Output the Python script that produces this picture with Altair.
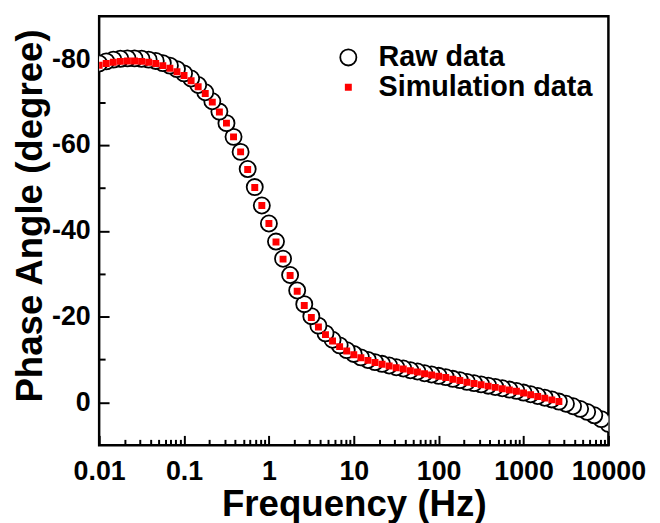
import altair as alt
import pandas as pd

# ---------------- data ----------------
freq = [
    0.01, 0.01212, 0.01468, 0.01778, 0.02154, 0.0261, 0.03162, 0.03831, 0.04642, 0.05623, 0.06813, 0.08254,
    0.1, 0.1212, 0.1468, 0.1778, 0.2154, 0.261, 0.3162, 0.3831, 0.4642, 0.5623, 0.6813, 0.8254,
    1, 1.212, 1.468, 1.778, 2.154, 2.61, 3.162, 3.831, 4.642, 5.623, 6.813, 8.254,
    10, 12.12, 14.68, 17.78, 21.54, 26.1, 31.62, 38.31, 46.42, 56.23, 68.13, 82.54,
    100, 121.2, 146.8, 177.8, 215.4, 261, 316.2, 383.1, 464.2, 562.3, 681.3, 825.4,
    1000, 1212, 1468, 1778, 2154, 2610, 3162, 3831, 4642, 5623, 6813, 8254,
    10000,
]

raw_phase = [
    -79.0, -79.5, -79.9, -80.1, -80.2, -80.2, -80.1, -79.9, -79.6, -79.1, -78.5, -77.7,
    -76.7, -75.5, -74.0, -72.3, -70.2, -67.8, -65.1, -61.9, -58.4, -54.4, -50.2, -45.9,
    -41.7, -37.5, -33.5, -29.7, -26.1, -22.9, -20.1, -17.9, -16.1, -14.6, -13.3, -12.2,
    -11.3, -10.5, -9.9, -9.4, -9.0, -8.6, -8.2, -7.9, -7.5, -7.2, -6.8, -6.5,
    -6.2, -5.9, -5.5, -5.2, -4.8, -4.5, -4.2, -3.9, -3.6, -3.3, -3.0, -2.7,
    -2.3, -1.9, -1.5, -1.1, -0.7, -0.2, 0.3, 0.9, 1.5, 2.2, 3.0, 3.9,
    5.0,
]

sim_phase = [
    -78.6, -79.0, -79.3, -79.5, -79.6, -79.6, -79.5, -79.3, -79.0, -78.5, -77.9, -77.1,
    -76.2, -75.0, -73.6, -72.0, -70.0, -67.7, -65.1, -61.9, -58.4, -54.3, -50.1, -45.9,
    -41.7, -37.4, -33.4, -29.6, -25.9, -22.6, -19.8, -17.6, -15.8, -14.3, -13.0, -12.0,
    -11.1, -10.4, -9.8, -9.3, -8.9, -8.5, -8.1, -7.8, -7.4, -7.1, -6.7, -6.4,
    -6.1, -5.8, -5.4, -5.1, -4.7, -4.4, -4.1, -3.8, -3.5, -3.2, -2.9, -2.6,
    -2.2, -1.8, -1.4, -1.0, -0.6, -0.2,
]

series_names = ["Raw data", "Simulation data"]

x_major = [0.01, 0.1, 1, 10, 100, 1000, 10000]
x_minor = [
    0.02, 0.03, 0.04, 0.05, 0.06, 0.07, 0.08, 0.09,
    0.2, 0.3, 0.4, 0.5, 0.6, 0.7, 0.8, 0.9,
    2, 3, 4, 5, 6, 7, 8, 9,
    20, 30, 40, 50, 60, 70, 80, 90,
    200, 300, 400, 500, 600, 700, 800, 900,
    2000, 3000, 4000, 5000, 6000, 7000, 8000, 9000,
]
y_major = [-80, -60, -40, -20, 0]
y_minor = [-70, -50, -30, -10]

# ---------------- table (high -> low frequency, as measured) ----------------
rows = []
for f, v in reversed(list(zip(freq, raw_phase))):
    rows.append({"freq": f, "phase": v, "series": series_names[0]})
for f, v in reversed(list(zip(freq, sim_phase))):
    rows.append({"freq": f, "phase": v, "series": series_names[1]})
df = pd.DataFrame(rows)

PLOT_W = 514
PLOT_H = 433
FONT = "Liberation Sans"

xscale = alt.Scale(type="log", domain=[0.01, 10000], nice=False)
yscale = alt.Scale(domain=[-90, 10], reverse=True, nice=False, zero=False)

legend = alt.Legend(
    title=None, orient="none", legendX=237, legendY=27, padding=0,
    labelFont=FONT, labelFontSize=29, labelFontWeight="bold", labelColor="black",
    labelOffset=16, rowPadding=-3, symbolStrokeWidth=1.8, labelBaseline="middle",
    labelLimit=400,
)

main = alt.Chart(df).mark_point(clip=True, opacity=1, strokeWidth=1.8).encode(
    x=alt.X("freq:Q", scale=xscale, axis=alt.Axis(
        orient="bottom", values=x_major, labelExpr="datum.value + ''",
        ticks=False, domain=False, grid=False, labelPadding=13,
        labelFont=FONT, labelFontSize=27, labelFontWeight="bold", labelColor="black",
        labelFlush=False, labelOverlap=False, labelBound=False,
        title="Frequency (Hz)", titleFont=FONT, titleFontSize=37, titleFontWeight="bold",
        titleColor="black", titleX=257, titleY=71, titleBaseline="alphabetic", titleAlign="center",
    )),
    y=alt.Y("phase:Q", scale=yscale, axis=alt.Axis(
        orient="left", values=y_major, labelExpr="datum.value + ''",
        ticks=False, domain=False, grid=False, labelPadding=9,
        labelFont=FONT, labelFontSize=27, labelFontWeight="bold", labelColor="black",
        labelFlush=False, labelOverlap=False,
        title="Phase Angle (degree)", titleFont=FONT, titleFontSize=37, titleFontWeight="bold",
        titleColor="black", titleAngle=270, titleX=-58, titleY=201,
        titleBaseline="alphabetic", titleAlign="center",
    )),
    shape=alt.Shape("series:N", scale=alt.Scale(domain=series_names, range=["circle", "square"]), legend=legend),
    fill=alt.Fill("series:N", scale=alt.Scale(domain=series_names, range=["white", "#ff0000"]), legend=legend),
    stroke=alt.Stroke("series:N", scale=alt.Scale(domain=series_names, range=["black", "#ff0000"]), legend=legend),
    size=alt.Size("series:N", scale=alt.Scale(domain=series_names, range=[265, 27]), legend=legend),
)

tick_base = alt.Chart(df).mark_point(opacity=0, size=1)


def tick_layer(xvals, yvals, size):
    return tick_base.encode(
        x=alt.X("freq:Q", scale=xscale, axis=alt.Axis(
            orient="top", offset=-PLOT_H, values=xvals, labels=False, domain=False,
            grid=False, tickSize=size, tickWidth=2, tickColor="black", title=None,
        )),
        y=alt.Y("phase:Q", scale=yscale, axis=alt.Axis(
            orient="right", offset=-PLOT_W, values=yvals, labels=False, domain=False,
            grid=False, tickSize=size, tickWidth=2, tickColor="black", title=None,
        )),
    )


chart = alt.layer(
    main,
    tick_layer(x_major, y_major, 10),
    tick_layer(x_minor, y_minor, 6),
).resolve_axis(
    x="independent", y="independent"
).properties(
    width=PLOT_W, height=PLOT_H,
    padding={"left": 92, "top": 6, "right": 44, "bottom": 76},
    autosize=alt.AutoSizeParams(type="none"),
).configure_view(
    stroke="black", strokeWidth=2.5
)

chart.save("out.html", embed_options={"renderer": "svg", "actions": False})
